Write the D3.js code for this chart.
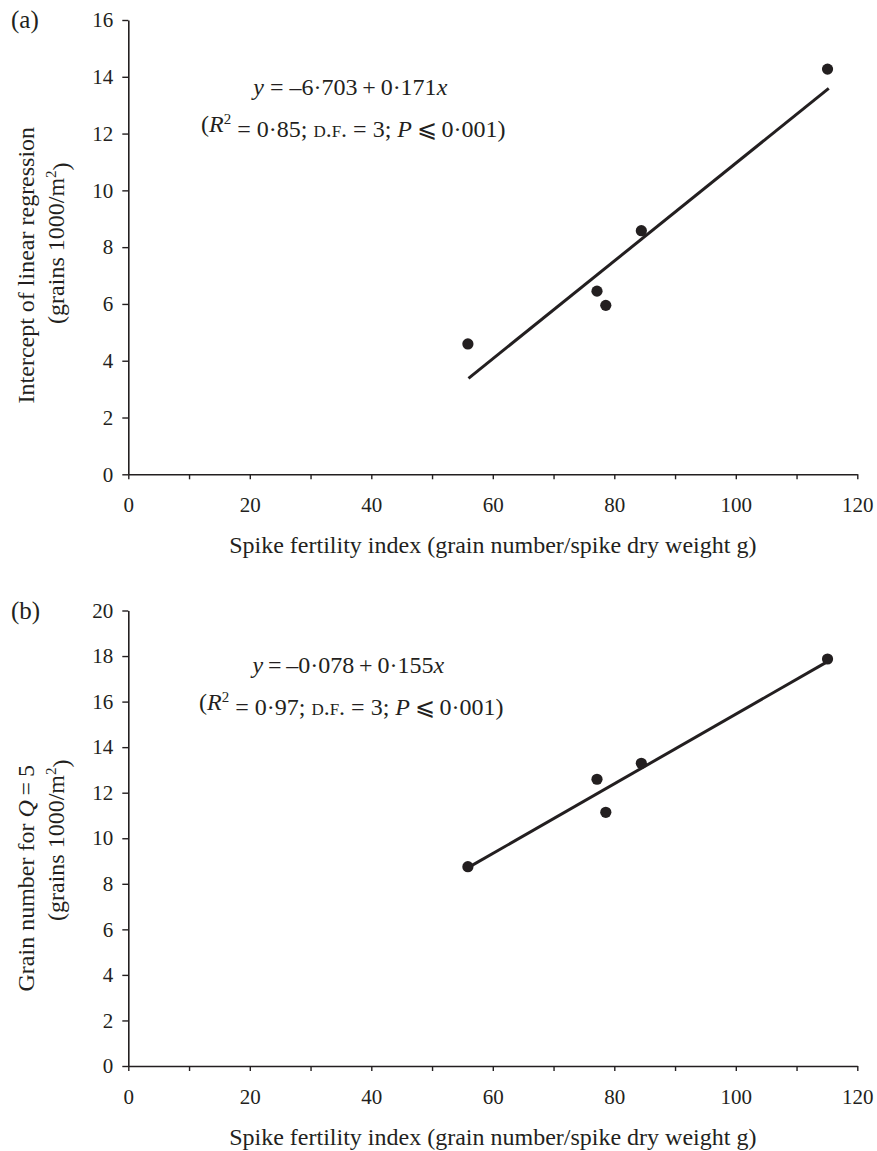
<!DOCTYPE html>
<html>
<head>
<meta charset="utf-8">
<script src="https://cdn.jsdelivr.net/npm/d3@7"></script>
<style>
  html, body { margin: 0; padding: 0; background: #fff; }
  svg { display: block; }
  text { font-family: "Liberation Serif", "Times New Roman", serif; fill: #231f20; }
</style>
</head>
<body>
<script>
// Spike fertility index (grain number / spike dry weight, g), shared by both panels
const fertilityIndex = [55.9, 77.15, 78.6, 84.45, 115.1];
// (a) intercept of the linear regression (grains 1000/m2)
const interceptValues = [4.59, 6.45, 5.95, 8.58, 14.27];
// (b) grain number for Q = 5 (grains 1000/m2)
const grainNumberQ5 = [8.75, 12.59, 11.14, 13.29, 17.87];

// fitted regression lines, start and end of the drawn segment
const fitX = [56, 115.3];
const fitA = [3.38, 13.59];
const fitB = [8.72, 17.79];

const xTicks = [0, 10, 20, 30, 40, 50, 60, 70, 80, 90, 100, 110, 120];
const yTicksA = [0, 2, 4, 6, 8, 10, 12, 14, 16];
const yTicksB = [0, 2, 4, 6, 8, 10, 12, 14, 16, 18, 20];

const W = 877, H = 1151;
const ink = "#231f20";

const svg = d3.select("body").append("svg")
  .attr("width", W).attr("height", H)
  .attr("viewBox", `0 0 ${W} ${H}`);

function panel(opts) {
  const { top, bottom, left, right, yMax, yTicks, values, fit, tag, titleLines, titleShift, eq } = opts;
  const x = d3.scaleLinear().domain([0, 120]).range([left, right]);
  const y = d3.scaleLinear().domain([0, yMax]).range([bottom, top]);
  const g = svg.append("g");

  // x axis: minor ticks every 10, labels every 20
  const xAxis = g.append("g")
    .attr("transform", `translate(0,${bottom})`)
    .call(d3.axisBottom(x).tickValues(xTicks).tickSize(5).tickSizeOuter(0).tickPadding(18)
      .tickFormat(d => d % 20 === 0 ? d : ""));
  // y axis
  const yAxis = g.append("g")
    .attr("transform", `translate(${left},0)`)
    .call(d3.axisLeft(y).tickValues(yTicks).tickSize(6).tickSizeOuter(0).tickPadding(9));

  [xAxis, yAxis].forEach(a => {
    a.select(".domain").attr("stroke", ink).attr("stroke-width", 1.6);
    a.selectAll(".tick line").attr("stroke", ink).attr("stroke-width", 1.4);
    a.selectAll(".tick text").attr("fill", ink)
      .style("font-family", '"Liberation Serif", serif').style("font-size", "21px");
  });

  // regression line
  g.append("line")
    .attr("x1", x(fitX[0])).attr("y1", y(fit[0]))
    .attr("x2", x(fitX[1])).attr("y2", y(fit[1]))
    .attr("stroke", ink).attr("stroke-width", 3);

  // observations
  g.selectAll("circle").data(values).join("circle")
    .attr("cx", (d, i) => x(fertilityIndex[i]))
    .attr("cy", d => y(d))
    .attr("r", 5.6)
    .attr("fill", ink);

  // panel tag
  g.append("text").attr("x", 11).attr("y", top + 8)
    .style("font-size", "25px").text(tag);

  // x axis title
  g.append("text")
    .attr("x", (left + right) / 2).attr("y", bottom + 79)
    .attr("text-anchor", "middle").style("font-size", "24px")
    .text("Spike fertility index (grain number/spike dry weight g)");

  // y axis title, two lines
  const cy = (top + bottom) / 2;
  titleLines.forEach((parts, i) => {
    const t = g.append("text")
      .attr("transform", `translate(${[34, 64][i]},${cy + titleShift[i]}) rotate(-90)`)
      .attr("text-anchor", "middle").style("font-size", "24px");
    parts.forEach(p => {
      const s = t.append("tspan").text(p.t);
      if (p.it) s.style("font-style", "italic");
      if (p.sup) s.attr("dy", "-0.55em").style("font-size", "15px");
      if (p.after) s.attr("dy", "0.55em");
    });
  });

  // regression equation and statistics
  const e1 = g.append("text").attr("x", left + eq.cx).attr("y", top + eq.y1)
    .attr("text-anchor", "middle").style("font-size", "24px");
  eq.line1.forEach(p => {
    const s = e1.append("tspan").text(p.t);
    if (p.it) s.style("font-style", "italic");
  });
  const e2 = g.append("text").attr("x", left + eq.cx + 3).attr("y", top + eq.y2)
    .attr("text-anchor", "middle").style("font-size", "24px");
  eq.line2.forEach(p => {
    const s = e2.append("tspan").text(p.t);
    if (p.it) s.style("font-style", "italic");
    if (p.sc) s.style("font-variant", "small-caps");
    if (p.sup) s.attr("dy", "-0.55em").style("font-size", "15px");
    if (p.after) s.attr("dy", "0.55em");
  });
}

panel({
  top: 20, bottom: 474.3, left: 128.3, right: 857.3,
  yMax: 16, yTicks: yTicksA, values: interceptValues, fit: fitA, tag: "(a)",
  titleLines: [
    [{ t: "Intercept of linear regression" }],
    [{ t: "(grains 1000/m" }, { t: "2", sup: true }, { t: ")", after: true }]
  ],
  titleShift: [18, -4],
  eq: {
    cx: 222, y1: 75, y2: 112,
    line1: [{ t: "y", it: true }, { t: " = –6·703\u2009+\u20090·171" }, { t: "x", it: true }],
    line2: [{ t: "(" }, { t: "R", it: true }, { t: "2", sup: true }, { t: " = 0·85; ", after: true },
            { t: "d.f.", sc: true }, { t: " = 3; " }, { t: "P", it: true }, { t: "\u2009⩽\u20090·001)" }]
  }
});

panel({
  top: 610.5, bottom: 1066, left: 128.3, right: 857.3,
  yMax: 20, yTicks: yTicksB, values: grainNumberQ5, fit: fitB, tag: "(b)",
  titleLines: [
    [{ t: "Grain number for " }, { t: "Q", it: true }, { t: "\u2009=\u20095" }],
    [{ t: "(grains 1000/m" }, { t: "2", sup: true }, { t: ")", after: true }]
  ],
  titleShift: [40, 2],
  eq: {
    cx: 220, y1: 62.5, y2: 99.5,
    line1: [{ t: "y", it: true }, { t: "\u2009=\u2009–0·078\u2009+\u20090·155" }, { t: "x", it: true }],
    line2: [{ t: "(" }, { t: "R", it: true }, { t: "2", sup: true }, { t: " = 0·97; ", after: true },
            { t: "d.f.", sc: true }, { t: " = 3; " }, { t: "P", it: true }, { t: "\u2009⩽\u20090·001)" }]
  }
});
</script>
</body>
</html>
